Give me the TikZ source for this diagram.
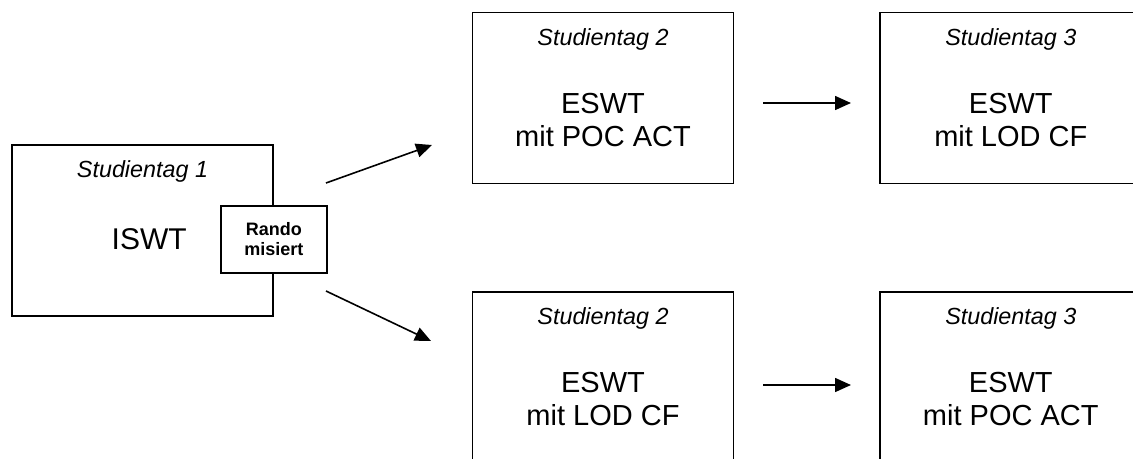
\documentclass[tikz,border=0pt]{standalone}
\usepackage{fontspec}
\setmainfont{Liberation Sans}
\usetikzlibrary{positioning, arrows.meta}
\tikzstyle{day} = [
    rectangle,
    draw,
    line width = 1.1pt,
    fill = white,
    minimum width = 196pt,
    minimum height = 128pt
]
\tikzstyle{daylabel} = [
    inner sep = 0pt,
    font = \fontsize{17.5}{21}\selectfont\itshape
]
\tikzstyle{therapy} = [
    inner sep = 0pt,
    align = center,
    font = \fontsize{21.75}{24.75}\selectfont
]
\tikzstyle{rando} = [
    rectangle,
    draw,
    line width = 1.1pt,
    fill = white,
    align = center,
    inner sep = 0pt,
    minimum width = 79.5pt,
    minimum height = 50pt,
    font = \fontsize{13.5}{15}\selectfont\bfseries
]
\tikzstyle{flow} = [
    line width = 1.2pt,
    -{Triangle[length = 12pt, width = 10.5pt]}
]
\begin{document}
\begin{tikzpicture}[x = 0.75pt, y = -0.75pt]
                \clip (0,0) rectangle (1133,458);

                % Studientag 1
                \node [day] (day1) at (142.5,230.5) {};
                \node [daylabel, below = 12pt of day1.north] (tag1) {Studientag 1};
                \node [therapy, below = 63pt of day1.north, xshift = 5pt, font = \fontsize{22.5}{25}\selectfont] (iswt) {ISWT};
                \node [rando] (rando) at ([yshift = -6.75pt]day1.east) {Rando\\misiert};

                % Studientag 2, upper arm
                \node [day] (day2a) at (603,98) {};
                \node [daylabel, below = 12pt of day2a.north] (tag2a) {Studientag 2};
                \node [therapy, below = 60.75pt of day2a.north] (eswt2a) {ESWT\\mit POC ACT};

                % Studientag 3, upper arm
                \node [day, right = 108.75pt of day2a] (day3a) {};
                \node [daylabel, below = 12pt of day3a.north] (tag3a) {Studientag 3};
                \node [therapy, below = 60.75pt of day3a.north] (eswt3a) {ESWT\\mit LOD CF};

                % Studientag 2, lower arm
                \node [day, below = 80.25pt of day2a] (day2b) {};
                \node [daylabel, below = 12pt of day2b.north] (tag2b) {Studientag 2};
                \node [therapy, below = 60.75pt of day2b.north] (eswt2b) {ESWT\\mit LOD CF};

                % Studientag 3, lower arm
                \node [day, right = 108.75pt of day2b] (day3b) {};
                \node [daylabel, below = 12pt of day3b.north] (tag3b) {Studientag 3};
                \node [therapy, below = 60.75pt of day3b.north] (eswt3b) {ESWT\\mit POC ACT};

                % arrows
                \coordinate (forkUp) at (326,183);
                \coordinate (forkUpEnd) at (432,145);
                \coordinate (forkDown) at (326,291);
                \coordinate (forkDownEnd) at (431,341);
                \coordinate (stepUp) at (763,103);
                \coordinate (stepUpEnd) at (851,103);
                \coordinate (stepDown) at (763,385);
                \coordinate (stepDownEnd) at (851,385);

                \draw [flow] (forkUp) -- (forkUpEnd);
                \draw [flow] (forkDown) -- (forkDownEnd);
                \draw [flow] (stepUp) -- (stepUpEnd);
                \draw [flow] (stepDown) -- (stepDownEnd);

            \end{tikzpicture}
\end{document}
